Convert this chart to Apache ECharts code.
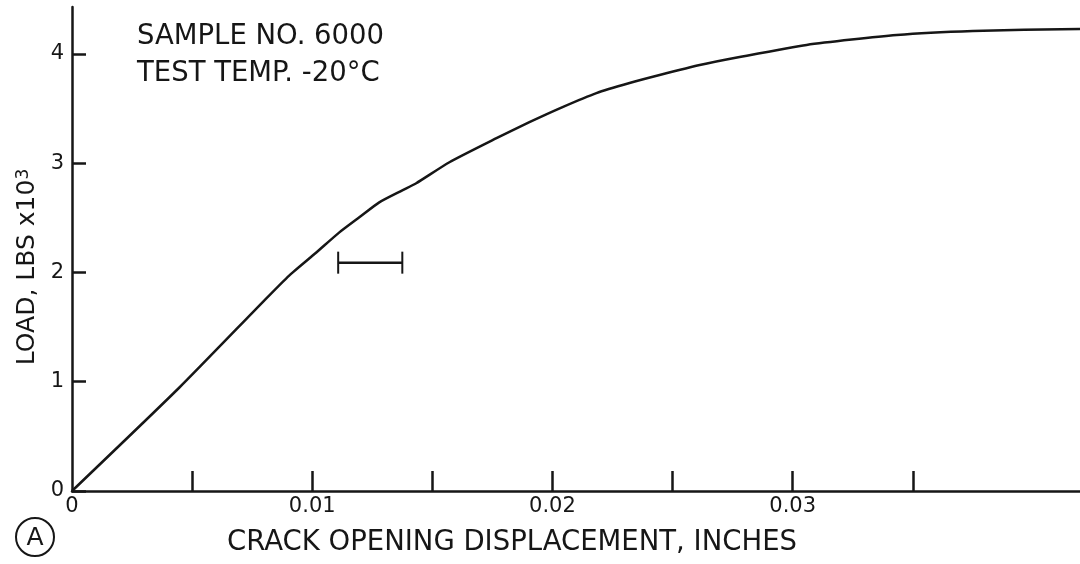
<!DOCTYPE html>
<html lang="en">
<head>
    <meta charset="UTF-8">
    <script src="https://cdn.jsdelivr.net/npm/echarts@6.0.0/dist/echarts.min.js"></script>
    <title>Crack opening displacement</title>
    <style>
        html, body { margin: 0; padding: 0; background: #fff; }
        #tu { width: 1080px; height: 564px; }
    </style>
</head>
<body>
<div id="tu"></div>
<script type="text/javascript">
    // crack opening displacement (inches) vs load (lbs x 10^3)
    var cod  = [0, 0.00446, 0.008, 0.00904, 0.01017, 0.01113, 0.01196, 0.01279, 0.01375, 0.01433,
                0.01571, 0.01767, 0.01904, 0.02042, 0.02183, 0.02321, 0.02446, 0.02613,
                0.02779, 0.03058, 0.03433, 0.0375, 0.04196];
    var load = [0, 0.945, 1.743, 1.972, 2.183, 2.367, 2.505, 2.642, 2.752, 2.817,
                3.009, 3.229, 3.376, 3.514, 3.642, 3.734, 3.807, 3.899,
                3.972, 4.083, 4.174, 4.211, 4.229];

    // little scale bar drawn beside the curve
    var barX = [0.01108, 0.01375];
    var barY = [2.09, 2.09];

    var xTicks  = [0.005, 0.01, 0.015, 0.02, 0.025, 0.03, 0.035];
    var xLabels = [0, 0.01, 0.02, 0.03];
    var yTicks  = [0, 1, 2, 3, 4];

    var ink = '#161616';
    var font = 'DejaVu Sans';

    var thisChart = echarts.init(document.getElementById('tu'));
    var option = {
        backgroundColor: '#fff',
        animation: false,
        title: {
            text: 'SAMPLE NO. 6000\nTEST TEMP. -20°C',
            left: 132,
            top: 13,
            textStyle: { fontFamily: font, fontSize: 27.5, fontWeight: 'normal', color: ink, lineHeight: 37 }
        },
        grid: { left: 72, right: 0, top: 7, bottom: 73, outerBoundsMode: 'none' },
        xAxis: {
            type: 'value',
            min: 0,
            max: 0.04196,
            interval: 0.005,
            name: 'CRACK OPENING DISPLACEMENT, INCHES',
            nameLocation: 'middle',
            nameGap: 38,
            nameTextStyle: { fontFamily: font, fontSize: 27.5, color: ink, padding: [0, 128, 0, 0] },
            splitLine: { show: false },
            axisLine: { lineStyle: { color: ink, width: 2.5 } },
            axisTick: { inside: true, length: 20, customValues: xTicks, lineStyle: { color: ink, width: 2.5 } },
            axisLabel: {
                customValues: xLabels,
                fontFamily: font, fontSize: 21, color: ink, margin: 5,
                formatter: function (v) { return v === 0 ? '0' : v.toFixed(2); }
            }
        },
        yAxis: {
            type: 'value',
            min: 0,
            max: 4.43,
            interval: 1,
            name: 'LOAD, LBS x10{sup|3}',
            nameLocation: 'middle',
            nameGap: 32,
            nameTextStyle: {
                fontFamily: font, fontSize: 25, color: ink, padding: [0, 36, 0, 0],
                rich: { sup: { fontFamily: font, fontSize: 17, color: ink, verticalAlign: 'top' } }
            },
            splitLine: { show: false },
            axisLine: { lineStyle: { color: ink, width: 2.5 } },
            axisTick: { inside: true, length: 14, customValues: yTicks, lineStyle: { color: ink, width: 2.5 } },
            axisLabel: { customValues: yTicks, fontFamily: font, fontSize: 21, color: ink, margin: 8 }
        },
        graphic: [
            { type: 'circle', shape: { cx: 35, cy: 537, r: 19 }, style: { fill: 'none', stroke: ink, lineWidth: 2 } },
            { type: 'text', x: 35, y: 538, style: { text: 'A', fontFamily: font, fontSize: 25, fill: ink, align: 'center', verticalAlign: 'middle' } }
        ],
        series: [
            {
                type: 'line',
                data: cod.map(function (x, i) { return [x, load[i]]; }),
                smooth: 0.2,
                showSymbol: false,
                lineStyle: { color: ink, width: 2.5 }
            },
            {
                type: 'line',
                data: barX.map(function (x, i) { return [x, barY[i]]; }),
                symbol: 'rect',
                symbolSize: [2, 22],
                itemStyle: { color: ink },
                lineStyle: { color: ink, width: 2.5 }
            }
        ]
    };
    thisChart.setOption(option);
</script>
</body>
</html>
